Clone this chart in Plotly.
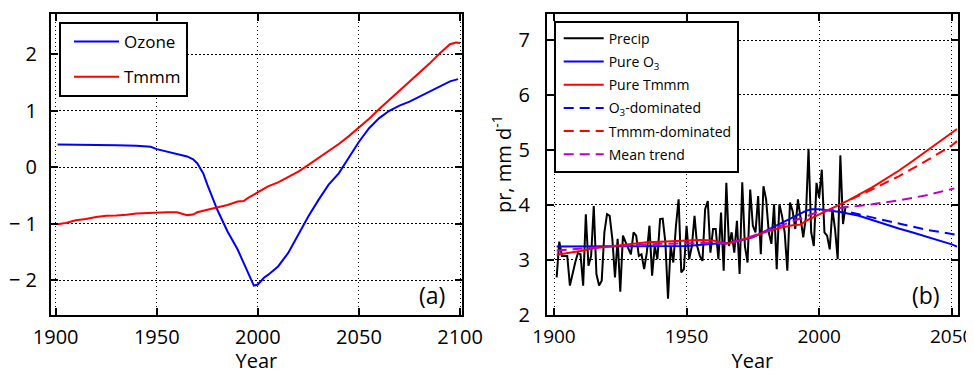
import plotly.graph_objects as go

# ---------------- Panel (a) data ----------------
a_years = [1901, 1910, 1920, 1930, 1940, 1947, 1950, 1955, 1960, 1965, 1968, 1970, 1973, 1975,
           1980, 1985, 1990, 1995, 1998, 2000, 2003, 2005, 2010, 2015, 2020, 2025, 2030,
           2035, 2040, 2045, 2050, 2055, 2060, 2065, 2070, 2075, 2080, 2085, 2090, 2095, 2099]
ozone = [0.40, 0.40, 0.40, 0.39, 0.38, 0.36, 0.32, 0.28, 0.24, 0.19, 0.14, 0.07, -0.11, -0.31,
         -0.76, -1.14, -1.46, -1.88, -2.10, -2.08, -1.96, -1.91, -1.76, -1.52, -1.20, -0.87, -0.58,
         -0.31, -0.11, 0.16, 0.45, 0.69, 0.87, 1.00, 1.09, 1.16, 1.25, 1.34, 1.43, 1.52, 1.56]

t_years = [1901, 1905, 1910, 1915, 1920, 1925, 1930, 1935, 1940, 1950, 1955, 1960, 1963, 1965,
           1968, 1970, 1975, 1980, 1985, 1990, 1993, 1995, 2000, 2005, 2010, 2015, 2020, 2025,
           2030, 2035, 2040, 2045, 2050, 2055, 2060, 2065, 2070, 2075, 2080, 2085, 2090, 2095,
           2098, 2100]
tmmm = [-1.01, -0.99, -0.94, -0.92, -0.885, -0.86, -0.855, -0.845, -0.82, -0.80, -0.80, -0.80,
        -0.83, -0.85, -0.84, -0.80, -0.755, -0.71, -0.67, -0.61, -0.60, -0.55, -0.44, -0.34,
        -0.27, -0.18, -0.08, 0.04, 0.16, 0.28, 0.41, 0.55, 0.70, 0.86, 1.03, 1.19, 1.36, 1.52,
        1.68, 1.84, 2.02, 2.18, 2.21, 2.20]

# ---------------- Panel (b) data ----------------
precip_start = 1901
precip = [2.68, 3.33, 3.07, 3.07, 3.07, 2.53, 2.77, 2.95, 3.12, 3.10,
          2.53, 3.83, 2.89, 3.07, 3.98, 2.74, 2.53, 2.62, 3.50, 3.83,
          3.80, 3.38, 2.68, 3.38, 2.42, 3.44, 3.32, 3.22, 3.10, 3.50,
          3.44, 3.07, 3.10, 2.83, 3.13, 3.62, 2.71, 3.25, 3.01, 3.74,
          3.75, 3.32, 2.29, 3.25, 2.95, 3.62, 4.10, 2.77, 2.83, 3.62,
          3.01, 3.25, 3.80, 3.25, 3.07, 2.98, 3.92, 4.07, 3.13, 3.56,
          3.56, 3.01, 3.86, 2.80, 4.40, 3.25, 3.50, 3.13, 3.71, 2.74,
          4.41, 3.25, 2.95, 4.28, 3.62, 3.50, 4.16, 3.10, 4.34, 4.10,
          3.50, 3.29, 4.01, 2.83, 4.01, 3.80, 3.50, 2.80, 4.04, 3.89,
          3.56, 4.10, 3.74, 3.41, 3.77, 5.02, 3.50, 3.25, 4.40, 4.13,
          4.64, 3.50, 3.44, 3.19, 3.92, 3.56, 3.01, 4.90, 3.65, 3.98]
precip_years = list(range(precip_start, precip_start + len(precip)))

o3_years = [1901, 1920, 1940, 1950, 1960, 1965, 1970, 1975, 1980, 1985, 1990, 1995, 1997,
            2000, 2005, 2008, 2015, 2020, 2025, 2030, 2035, 2040, 2045, 2050, 2052]
pure_o3 = [3.24, 3.24, 3.24, 3.25, 3.29, 3.30, 3.35, 3.41, 3.53, 3.65, 3.77, 3.89, 3.92,
           3.92, 3.89, 3.87, 3.80, 3.72, 3.64, 3.57, 3.50, 3.43, 3.36, 3.28, 3.24]

tm_years = [1901, 1905, 1910, 1915, 1920, 1925, 1930, 1935, 1940, 1945, 1950, 1955, 1960,
            1965, 1970, 1975, 1980, 1985, 1990, 1993, 1995, 2000, 2005, 2011, 2020, 2025,
            2030, 2035, 2040, 2045, 2050, 2052]
pure_tmmm = [3.09, 3.12, 3.16, 3.21, 3.24, 3.27, 3.30, 3.32, 3.33, 3.34, 3.35, 3.36, 3.35,
             3.29, 3.35, 3.42, 3.51, 3.58, 3.63, 3.64, 3.71, 3.83, 3.95, 4.08, 4.32, 4.47,
             4.62, 4.79, 4.96, 5.13, 5.30, 5.38]

fut_years = [2012, 2020, 2030, 2040, 2050, 2052]
o3_dom = [3.86, 3.77, 3.65, 3.55, 3.47, 3.45]
tmmm_dom = [4.10, 4.28, 4.52, 4.79, 5.08, 5.16]

mean_years = [1901, 1920, 1940, 1960, 1965, 1970, 1980, 1990, 2000, 2010, 2013, 2020, 2030,
              2040, 2051]
mean_trend = [3.17, 3.24, 3.29, 3.31, 3.30, 3.35, 3.52, 3.70, 3.88, 3.96, 3.97, 4.01, 4.08,
              4.17, 4.30]

BLUE = "#0000ff"
RED = "#ff0000"
MAG = "#bf00bf"
FONT = "Open Sans"
DASH = "10px,6px"

# page body has an 8px default margin: figure is drawn 8px smaller and offset
W, H, OFF = 966, 366, 8


def px(xp):
    return (xp - OFF) / W


def py(yp):
    return 1 - (yp - OFF) / H


fig = go.Figure()


def add(x, y, name, color, leg, xa, ya, dash=None):
    fig.add_trace(go.Scatter(x=x, y=y, mode="lines", name=name,
                             line=dict(color=color, width=2, dash=dash),
                             xaxis=xa, yaxis=ya, legend=leg, legendgroup=name))


add(a_years, ozone, "Ozone", BLUE, "legend", "x", "y")
add(t_years, tmmm, "Tmmm", RED, "legend", "x", "y")
add(precip_years, precip, "Precip", "black", "legend2", "x2", "y2")
add(o3_years, pure_o3, "Pure O<sub>3</sub>", BLUE, "legend2", "x2", "y2")
add(tm_years, pure_tmmm, "Pure Tmmm", RED, "legend2", "x2", "y2")
add(fut_years, o3_dom, "O<sub>3</sub>-dominated", BLUE, "legend2", "x2", "y2", DASH)
add(fut_years, tmmm_dom, "Tmmm-dominated", RED, "legend2", "x2", "y2", DASH)
add(mean_years, mean_trend, "Mean trend", MAG, "legend2", "x2", "y2", DASH)

axis_common = dict(
    showline=True, linecolor="black", linewidth=2, mirror="ticks",
    ticks="inside", ticklen=7, tickwidth=1.5, tickcolor="black",
    showgrid=True, gridcolor="black", gridwidth=1, griddash="1.5px,2.5px",
    zeroline=False, automargin=False, ticklabeloverflow="allow",
    tickfont=dict(family=FONT, size=20, color="black"),
    title_font=dict(family=FONT, size=20, color="black"),
)

ydom = [py(314.7), py(13.7)]

fig.update_layout(
    width=W, height=H,
    margin=dict(l=0, r=0, t=0, b=0, autoexpand=False),
    paper_bgcolor="white", plot_bgcolor="white",
    font=dict(family=FONT, color="black"),
    xaxis=dict(axis_common, domain=[px(51), px(461.7)], range=[1897.7, 2100.8],
               tickvals=[1900, 1950, 2000, 2050, 2100], anchor="y", ticklabelstandoff=3,
               title=dict(text="Year", standoff=14)),
    yaxis=dict(axis_common, domain=ydom, range=[-2.615, 2.72],
               tickvals=[-2, -1, 0, 1, 2], ticktext=["\u2212 2", "\u2212 1", "0", "1", "2"],
               anchor="x", ticklabelstandoff=8),
    xaxis2=dict(axis_common, domain=[px(547), px(957.7)], range=[1897.36, 2052.26],
                tickvals=[1900, 1950, 2000, 2050], anchor="y2", ticklabelstandoff=3,
                tickfont=dict(family=FONT, size=19, color="black"),
                title=dict(text="Year", standoff=14)),
    yaxis2=dict(axis_common, domain=ydom, range=[2.0, 7.48],
                tickvals=[2, 3, 4, 5, 6, 7], anchor="x2", ticklabelstandoff=11,
                title=dict(text="pr, mm d<sup>-1</sup>", standoff=2)),
    legend=dict(x=px(59), y=py(22), xanchor="left", yanchor="top",
                bgcolor="white", bordercolor="black", borderwidth=2,
                indentation=8, itemwidth=45,
                font=dict(family=FONT, size=17, color="black")),
    legend2=dict(x=px(553.7), y=py(20.7), xanchor="left", yanchor="top",
                 bgcolor="white", bordercolor="black", borderwidth=2,
                 indentation=3, itemwidth=40, tracegroupgap=2,
                 font=dict(family=FONT, size=14, color="black")),
    annotations=[
        dict(text="(a)", x=0.928, y=0.065, xref="x domain", yref="y domain",
             xanchor="center", yanchor="middle",
             showarrow=False, font=dict(family=FONT, size=23, color="black")),
        dict(text="(b)", x=0.923, y=0.065, xref="x2 domain", yref="y2 domain",
             xanchor="center", yanchor="middle",
             showarrow=False, font=dict(family=FONT, size=23, color="black")),
    ],
)

fig.write_html("out.html")
